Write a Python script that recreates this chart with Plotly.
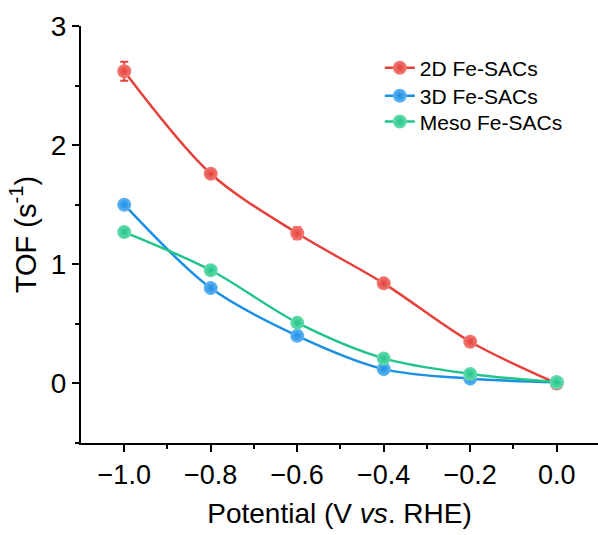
import plotly.graph_objects as go

potential = [-1.0, -0.8, -0.6, -0.4, -0.2, 0.0]
tof_2d = [2.62, 1.76, 1.26, 0.84, 0.35, 0.0]
err_2d = [0.08, 0.03, 0.05, 0.03, 0.03, 0.02]
tof_3d = [1.50, 0.80, 0.40, 0.12, 0.04, 0.01]
err_3d = [0.03, 0.03, 0.02, 0.02, 0.01, 0.01]
tof_meso = [1.27, 0.95, 0.51, 0.21, 0.08, 0.01]
err_meso = [0.03, 0.03, 0.02, 0.02, 0.01, 0.01]

series = [
    ("2D Fe-SACs", tof_2d, err_2d, "#E5403A", "#F27C76", "legend"),
    ("3D Fe-SACs", tof_3d, err_3d, "#1A8FE3", "#62B5F2", "legend2"),
    ("Meso Fe-SACs", tof_meso, err_meso, "#22C487", "#66DDAD", "legend3"),
]

fig = go.Figure()
for name, y, e, col, light, lg in series:
    fig.add_trace(go.Scatter(
        x=potential, y=y, name=name, mode="lines+markers", legend=lg,
        line=dict(color=col, width=2.5, shape="spline", smoothing=0.9),
        marker=dict(size=14, color=light, gradient=dict(type="radial", color=col),
                    line=dict(width=0)),
        error_y=dict(type="data", array=e, visible=True, color=col, thickness=2, width=4),
    ))

def leg(ypos):
    return dict(x=0.578, y=ypos, xanchor="left", yanchor="middle",
                font=dict(size=21), bgcolor="rgba(0,0,0,0)", itemwidth=30)

fig.update_layout(
    width=598, height=535,
    margin=dict(l=81, r=0, t=26, b=92),
    plot_bgcolor="white", paper_bgcolor="white",
    font=dict(family="Liberation Sans, Arial, sans-serif", color="black"),
    legend=leg(0.899), legend2=leg(0.832), legend3=leg(0.770),
    showlegend=True,
)
fig.update_xaxes(
    range=[-1.1, 0.0955], showgrid=False, zeroline=False,
    showline=True, linecolor="black", linewidth=2,
    ticks="outside", ticklen=7, tickwidth=2, tickcolor="black",
    tickvals=[-1.0, -0.8, -0.6, -0.4, -0.2, 0.0],
    ticktext=["\u22121.0", "\u22120.8", "\u22120.6", "\u22120.4", "\u22120.2", "0.0"],
    tickfont=dict(size=27),
    minor=dict(tickvals=[-0.9, -0.7, -0.5, -0.3, -0.1], ticks="outside", ticklen=4, tickwidth=2, tickcolor="black"),
    title=dict(text="Potential (V <i>vs</i>. RHE)", font=dict(size=28), standoff=14),
)
fig.update_yaxes(
    range=[-0.5, 3], showgrid=False, zeroline=False,
    showline=True, linecolor="black", linewidth=2,
    ticks="outside", ticklen=7, tickwidth=2, tickcolor="black",
    tickvals=[0, 1, 2, 3], ticktext=["0", "1", "2", "3"],
    tickfont=dict(size=28),
    minor=dict(tickvals=[-0.5, 0.5, 1.5, 2.5], ticks="outside", ticklen=4, tickwidth=2, tickcolor="black"),
    title=dict(text="TOF (s<sup>-1</sup>)", font=dict(size=29), standoff=6),
)

fig.write_html("out.html")
